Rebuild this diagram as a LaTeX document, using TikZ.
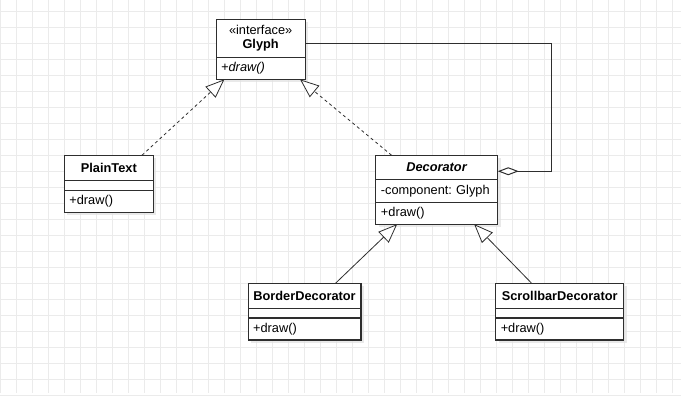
\documentclass[tikz,border=0pt]{standalone}
\usepackage{fontspec}
\setmainfont{Liberation Sans}
\usetikzlibrary{positioning,arrows.meta,shadows}
\definecolor{umlline}{HTML}{2E2E2E}
\definecolor{gridgray}{HTML}{EBEBEB}
\newcommand{\umlsize}{\fontsize{9.6}{10.8}\selectfont\frenchspacing}

\begin{document}
\begin{tikzpicture}[
  x=0.75pt, y=-0.75pt,
  font=\umlsize,
  part/.style={draw=umlline, fill=white, line width=0.8pt,
               inner sep=0pt, outer sep=0pt,
               drop shadow={shadow xshift=2.25pt, shadow yshift=-2.25pt,
                            fill=black!12, opacity=0.7}},
  head/.style={part, align=center, font=\umlsize\bfseries},
  slot/.style={part, inner xsep=3.75pt, align=left, font=\umlsize},
  gridline/.style={draw=gridgray, line width=0.75pt},
  realize/.style={-{Triangle[open, fill=white, length=14.25pt, width=11.25pt]},
                  line width=0.6pt, draw=umlline,
                  dash pattern=on 2.25pt off 2.25pt},
  inherit/.style={-{Triangle[open, fill=white, length=14.25pt, width=11.25pt]},
                  line width=0.6pt, draw=umlline},
  aggr/.style={-{Diamond[open, fill=white, length=15.75pt, width=6pt]},
               line width=0.75pt, draw=umlline},
]
% canvas and grid
\fill[white] (0,0) rectangle (681,393);
\foreach \gx in {0,...,42} \draw[gridline] (16*\gx+0.5,0) -- (16*\gx+0.5,393);
\foreach \gy in {0,...,24} \draw[gridline] (0,16*\gy+11.5) -- (681,16*\gy+11.5);
\useasboundingbox (0,0) rectangle (681,393);

% interface
\node[head, minimum width=66.75pt, minimum height=28.5pt] (glyph) at (260.5,38)
  {\mdseries «interface»\\ Glyph};
\node[slot, minimum width=66.75pt, text width=59.25pt, minimum height=16.5pt,
      below=0pt of glyph] (glyphop) {\textit{+draw()}};

% leaf
\node[head, minimum width=66.75pt, minimum height=18.75pt] (plain) at (108.5,167.5)
  {PlainText};
\node[slot, minimum width=66.75pt, text width=59.25pt, minimum height=7.5pt,
      below=0pt of plain] (plainat) {};
\node[slot, minimum width=66.75pt, text width=59.25pt, minimum height=16.5pt,
      below=0pt of plainat] (plainop) {+draw()};

% decorator
\node[head, minimum width=91.5pt, minimum height=18pt] (deco) at (437,167)
  {\textit{Decorator}};
\node[slot, minimum width=91.5pt, text width=84pt, minimum height=17.25pt,
      below=0pt of deco] (decoat) {-component: Glyph};
\node[slot, minimum width=91.5pt, text width=84pt, minimum height=16.5pt,
      below=0pt of decoat] (decoop) {+draw()};

% concrete decorators
\node[head, minimum width=84.75pt, minimum height=18.75pt] (border) at (304.5,295.5)
  {BorderDecorator};
\node[slot, minimum width=84.75pt, text width=77.25pt, minimum height=7.5pt,
      below=0pt of border] (borderat) {};
\node[slot, minimum width=84.75pt, text width=77.25pt, minimum height=16.5pt,
      below=0pt of borderat] (borderop) {+draw()};

\node[head, minimum width=96pt, minimum height=18.75pt] (scroll) at (560,295.5)
  {ScrollbarDecorator};
\node[slot, minimum width=96pt, text width=88.5pt, minimum height=7.5pt,
      below=0pt of scroll] (scrollat) {};
\node[slot, minimum width=96pt, text width=88.5pt, minimum height=16.5pt,
      below=0pt of scrollat] (scrollop) {+draw()};

% relations
\draw[realize] ([xshift=24.9pt]plain.north) -- ([xshift=-27.2pt]glyphop.south);
\draw[realize] ([xshift=-34pt]deco.north) -- ([xshift=29.6pt]glyphop.south);
\draw[inherit] ([xshift=23.4pt]border.north) -- ([xshift=-29.8pt]decoop.south);
\draw[inherit] ([xshift=-21.2pt]scroll.north) -- ([xshift=28pt]decoop.south);
\draw[aggr] ([yshift=-3.75pt]glyph.east) -- ++(247,0) |- ([yshift=-3pt]deco.east);
\end{tikzpicture}
\end{document}
